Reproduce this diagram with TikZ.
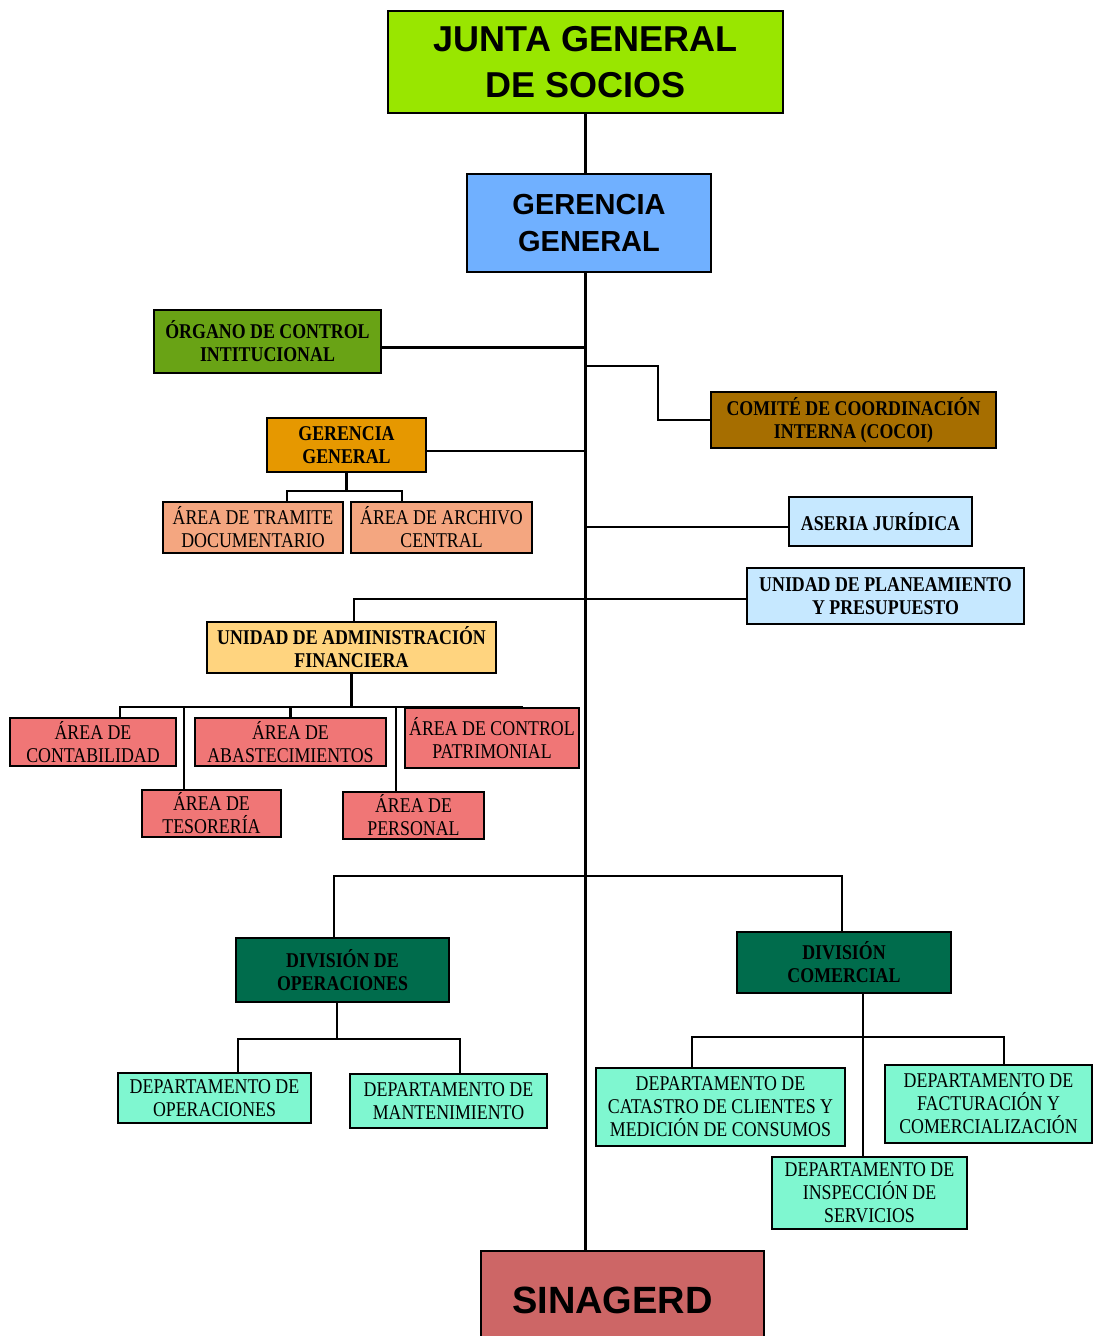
\documentclass[tikz,border=0pt]{standalone}
\usepackage{fontspec}
\setmainfont{Liberation Serif}[FakeStretch=0.85]
\setsansfont{Liberation Sans}
\usetikzlibrary{positioning}

\definecolor{cjunta}{RGB}{153,230,0}
\definecolor{cgerencia}{RGB}{112,176,255}
\definecolor{corgano}{RGB}{105,163,21}
\definecolor{ccomite}{RGB}{166,110,0}
\definecolor{cgerarea}{RGB}{230,152,0}
\definecolor{csalmon}{RGB}{244,166,128}
\definecolor{cceleste}{RGB}{198,232,255}
\definecolor{cunidad}{RGB}{255,212,127}
\definecolor{carea}{RGB}{240,118,118}
\definecolor{cdivision}{RGB}{0,108,76}
\definecolor{cdepto}{RGB}{127,247,208}
\definecolor{csinagerd}{RGB}{205,102,102}

\tikzstyle{unit} = [rectangle, draw=black, line width=1.8pt, text centered, align=center, inner sep=0pt, font=\fontsize{21}{23}\selectfont]
\tikzstyle{head} = [unit, font=\sffamily\bfseries\fontsize{36}{46}\selectfont]
\tikzstyle{link} = [line width=2.6pt]

\begin{document}
\begin{tikzpicture}[x=1pt, y=-1pt]
\useasboundingbox (0,0) rectangle (1093,1336);
\clip (0,0) rectangle (1093,1336);

% Top levels
\node[head, fill=cjunta, minimum width=395pt, minimum height=102pt] (junta) at (585.5,62) {JUNTA GENERAL\\DE SOCIOS};
\node[head, fill=cgerencia, minimum width=244pt, minimum height=98pt, font=\sffamily\bfseries\fontsize{29}{37}\selectfont] (gerencia) at (589,223) {GERENCIA\\GENERAL};

% Staff units on the main line
\node[unit, fill=corgano, minimum width=227pt, minimum height=63pt, font=\bfseries\fontsize{21}{23}\selectfont] (organo) at (267.5,341.5) {ÓRGANO DE CONTROL\\INTITUCIONAL};
\node[unit, fill=ccomite, minimum width=285pt, minimum height=56pt, font=\bfseries\fontsize{21}{23}\selectfont] (comite) at (853.5,420) {COMITÉ DE COORDINACIÓN\\INTERNA (COCOI)};
\node[unit, fill=cgerarea, minimum width=159pt, minimum height=54pt, font=\bfseries\fontsize{21}{23}\selectfont] (gerarea) at (346.5,445) {GERENCIA\\GENERAL};
\node[unit, fill=csalmon, minimum width=180pt, minimum height=51pt] (tramite) at (253,527.5) {ÁREA DE TRAMITE\\DOCUMENTARIO};
\node[unit, fill=csalmon, minimum width=181pt, minimum height=51pt] (archivo) at (441.5,527.5) {ÁREA DE ARCHIVO\\CENTRAL};
\node[unit, fill=cceleste, minimum width=183pt, minimum height=49pt, font=\bfseries\fontsize{21}{23}\selectfont] (asesoria) at (880.5,521.5) {ASERIA JURÍDICA};
\node[unit, fill=cceleste, minimum width=277pt, minimum height=56pt, font=\bfseries\fontsize{21}{23}\selectfont] (planea) at (885.5,596) {UNIDAD DE PLANEAMIENTO\\Y PRESUPUESTO};

% Administracion financiera
\node[unit, fill=cunidad, minimum width=289pt, minimum height=51pt, font=\bfseries\fontsize{21}{23}\selectfont] (uaf) at (351.5,647.5) {UNIDAD DE ADMINISTRACIÓN\\FINANCIERA};
\node[unit, fill=carea, minimum width=166pt, minimum height=48pt] (contab) at (93,742) {ÁREA DE\\CONTABILIDAD};
\node[unit, fill=carea, minimum width=191pt, minimum height=48pt] (abast) at (290.5,742) {ÁREA DE\\ABASTECIMIENTOS};
\node[unit, fill=carea, minimum width=174pt, minimum height=60pt] (patrim) at (492,738) {ÁREA DE CONTROL\\PATRIMONIAL};
\node[unit, fill=carea, minimum width=139pt, minimum height=47pt] (tesor) at (211.5,813.5) {ÁREA DE\\TESORERÍA};
\node[unit, fill=carea, minimum width=141pt, minimum height=47pt] (personal) at (413.5,815.5) {ÁREA DE\\PERSONAL};

% Divisiones
\node[unit, fill=cdivision, minimum width=213pt, minimum height=64pt, font=\bfseries\fontsize{21}{23}\selectfont] (divop) at (342.5,970) {DIVISIÓN DE\\OPERACIONES};
\node[unit, fill=cdivision, minimum width=214pt, minimum height=61pt, font=\bfseries\fontsize{21}{23}\selectfont] (divcom) at (844,962.5) {DIVISIÓN\\COMERCIAL};

% Departamentos
\node[unit, fill=cdepto, minimum width=193pt, minimum height=50pt] (dop) at (214.5,1098) {DEPARTAMENTO DE\\OPERACIONES};
\node[unit, fill=cdepto, minimum width=197pt, minimum height=54pt] (dmant) at (448.5,1101) {DEPARTAMENTO DE\\MANTENIMIENTO};
\node[unit, fill=cdepto, minimum width=249pt, minimum height=78pt] (dcat) at (720.5,1107) {DEPARTAMENTO DE\\CATASTRO DE CLIENTES Y\\MEDICIÓN DE CONSUMOS};
\node[unit, fill=cdepto, minimum width=207pt, minimum height=78pt] (dfact) at (988.5,1104) {DEPARTAMENTO DE\\FACTURACIÓN Y\\COMERCIALIZACIÓN};
\node[unit, fill=cdepto, minimum width=195pt, minimum height=72pt] (dinsp) at (869.5,1193) {DEPARTAMENTO DE\\INSPECCIÓN DE\\SERVICIOS};

% SINAGERD
\node[head, fill=csinagerd, minimum width=283pt, minimum height=99pt, font=\sffamily\bfseries\fontsize{38}{46}\selectfont] (sinagerd) at (622.5,1300.5) {\hspace*{-20pt}SINAGERD};

% Main line
\draw[link] (junta.south) -- (junta.south |- gerencia.north);
\draw[link] (junta.south |- gerencia.south) -- (junta.south |- sinagerd.north);

% Staff links
\draw[link] ([yshift=-6pt]organo.east) -- ([yshift=-6pt]organo.east -| junta.south);
\coordinate (comitebend) at (658,366);
\draw[link] (comite.west) -| (comitebend) -- (comitebend -| junta.south);
\draw[link] ([yshift=-6pt]gerarea.east) -- ([yshift=-6pt]gerarea.east -| junta.south);
\path (gerarea.south) ++(0,18) coordinate (gerbus);
\draw[link] (gerarea.south) -- (gerbus);
\draw[link] ([xshift=34pt]tramite.north) |- (gerbus) -| ([xshift=-39.5pt]archivo.north);
\draw[link] ([yshift=-5.5pt]asesoria.west) -- ([yshift=-5.5pt]asesoria.west -| junta.south);
\draw[link] ([yshift=-3pt]planea.west) -- ([yshift=-3pt, xshift=2.5pt]planea.west -| uaf.north) -- ([xshift=2.5pt]uaf.north);

% Areas of UAF
\path (uaf.south) ++(0,33) coordinate (uafbus);
\draw[link] (uaf.south) -- (uafbus);
\draw[link] ([xshift=27pt]contab.north) |- (uafbus) -| ([xshift=30pt]patrim.north);
\draw[link] (abast.north) -- (abast.north |- uafbus);
\draw[link] ([xshift=-27.5pt]tesor.north) -- ([xshift=-27.5pt]tesor.north |- uafbus);
\draw[link] ([xshift=-17.5pt]personal.north) -- ([xshift=-17.5pt]personal.north |- uafbus);

% Divisions
\coordinate (divbus) at (586,876);
\draw[link] ([xshift=-8.5pt]divop.north) |- (divbus) -| ([xshift=-2pt]divcom.north);
\path ([xshift=-5.5pt]divop.south) ++(0,36) coordinate (divopbus);
\draw[link] ([xshift=-5.5pt]divop.south) -- (divopbus);
\draw[link] ([xshift=23.5pt]dop.north) |- (divopbus) -| ([xshift=11.5pt]dmant.north);
\draw[link] ([xshift=19pt]divcom.south) -- ([xshift=19pt]divcom.south |- dinsp.north);
\path ([xshift=19pt]divcom.south) ++(0,43) coordinate (divcombus);
\draw[link] ([xshift=-28.5pt]dcat.north) |- (divcombus) -| ([xshift=15.5pt]dfact.north);

\end{tikzpicture}
\end{document}
